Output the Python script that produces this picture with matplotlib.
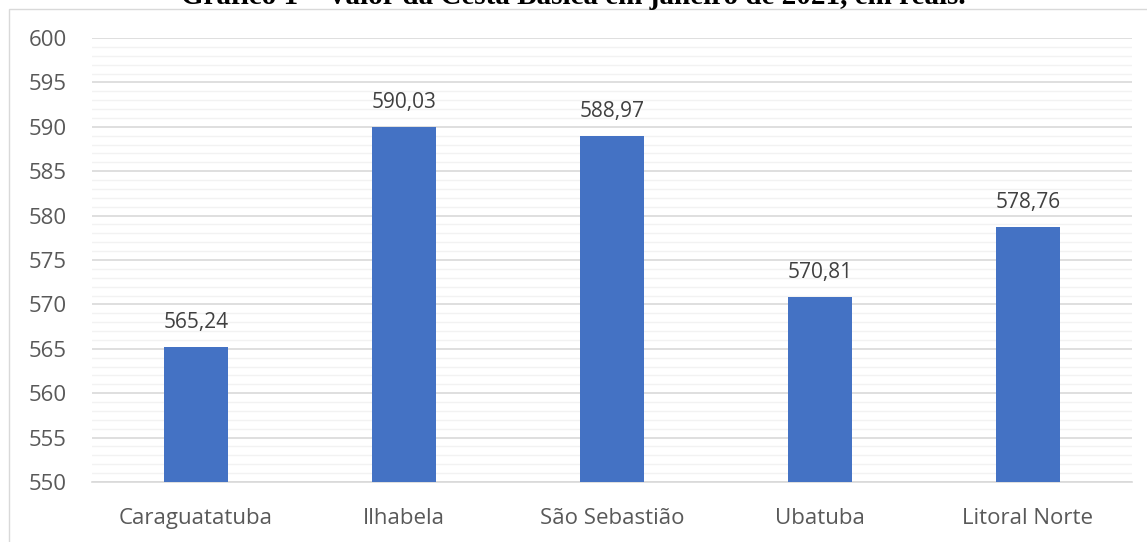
import matplotlib.pyplot as plt
import matplotlib.patches as patches
import numpy as np

# Cesta Básica - janeiro de 2021
cidades = ["Caraguatatuba", "Ilhabela", "São Sebastião", "Ubatuba", "Litoral Norte"]
valores = [565.24, 590.03, 588.97, 570.81, 578.76]
rotulos = ["565,24", "590,03", "588,97", "570,81", "578,76"]

plt.rcParams['font.family'] = ['Open Sans', 'DejaVu Sans']

fig = plt.figure(figsize=(11.47, 5.42), dpi=100)
ax = fig.add_axes([92 / 1147, 1 - 482 / 542, (1132 - 92) / 1147, (482 - 38) / 542])

x = np.arange(len(cidades))
ax.bar(x, valores, width=0.31, color='#4472c4', zorder=3)

for xi, v, r in zip(x, valores, rotulos):
    ax.annotate(r, (xi, v), xytext=(0, 10), textcoords='offset points',
                ha='center', va='bottom', fontsize=15, color='#404040')

ax.set_ylim(550, 600)
ax.set_xlim(-0.5, len(cidades) - 0.5)
ax.set_yticks(np.arange(550, 601, 5))
ax.set_yticks(np.arange(550, 601, 1), minor=True)
ax.set_xticks(x)
ax.set_xticklabels(cidades)

ax.grid(axis='y', which='major', color='#d9d9d9', linewidth=1.2, zorder=0)
ax.grid(axis='y', which='minor', color='#f2f2f2', linewidth=1, zorder=0)
for s in ['top', 'right', 'left']:
    ax.spines[s].set_visible(False)
ax.spines['bottom'].set_color('#d9d9d9')
ax.spines['bottom'].set_linewidth(1.2)
ax.tick_params(axis='both', which='both', length=0, colors='#595959', labelsize=16)
ax.tick_params(axis='x', pad=19)
ax.tick_params(axis='y', pad=18)

# moldura do gráfico
fig.patches.append(patches.Rectangle((8.5 / 1147, -0.05), 1.2, 1 - 8.5 / 542 + 0.05,
                                     transform=fig.transFigure, fill=False,
                                     edgecolor='#d9d9d9', linewidth=1))

fig.text(0.5, 1 - 4 / 542, "Gráfico 1 – Valor da Cesta Básica em janeiro de 2021, em reais.",
         ha='center', va='baseline', fontsize=21, fontweight='bold',
         family=['Liberation Serif', 'DejaVu Serif'], color='black')

fig.savefig("out.png", dpi=100)
